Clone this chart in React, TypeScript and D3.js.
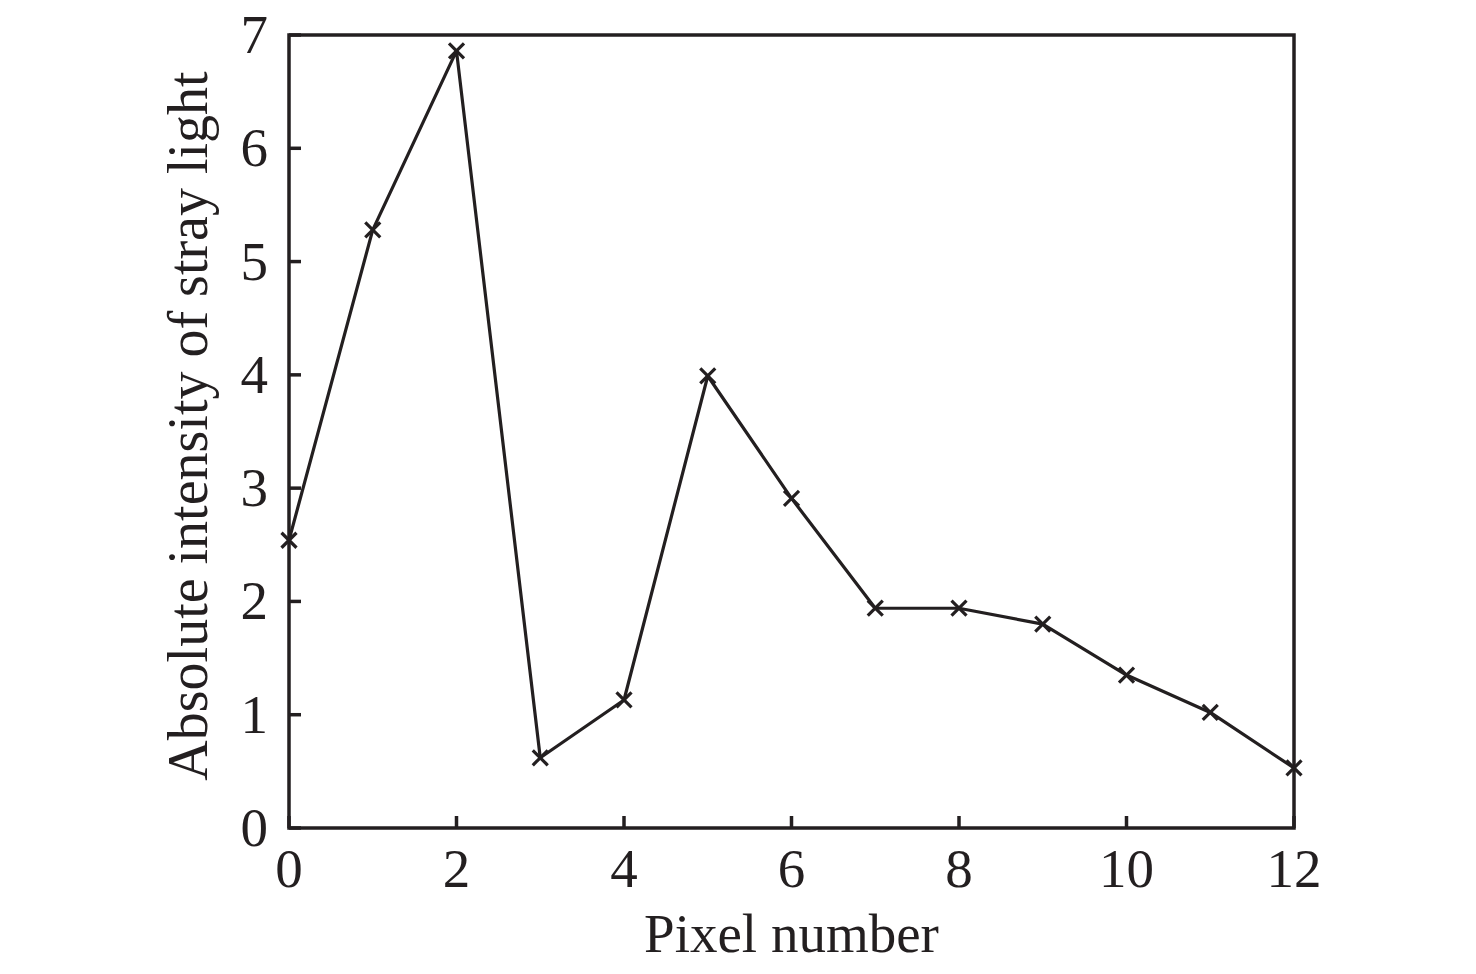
import React from 'react';
import { scaleLinear, line } from 'd3';

const pixels = [0, 1, 2, 3, 4, 5, 6, 7, 8, 9, 10, 11, 12];
const intensity = [2.54, 5.28, 6.86, 0.62, 1.13, 3.99, 2.91, 1.94, 1.94, 1.8, 1.35, 1.02, 0.53];
const xTicks = [0, 2, 4, 6, 8, 10, 12];
const yTicks = [0, 1, 2, 3, 4, 5, 6, 7];

const W = 1476;
const H = 974;
const margin = { left: 289, right: 1294, top: 35, bottom: 828 };
const ink = '#231f20';
const font = '"Liberation Serif", "Times New Roman", serif';

export default function App() {
  const x = scaleLinear().domain([0, 12]).range([margin.left, margin.right]);
  const y = scaleLinear().domain([0, 7]).range([margin.bottom, margin.top]);

  const path = line<number>()
    .x((_, i) => x(pixels[i]))
    .y(d => y(d))(intensity);

  const m = 7.5;

  return (
    <svg
      width={W}
      height={H}
      style={{ position: 'absolute', left: 0, top: 0, background: '#fff' }}
      fontFamily={font}
      fill={ink}
    >
      {/* ticks */}
      {xTicks.map(t => (
        <line key={'xt' + t} x1={x(t)} x2={x(t)} y1={y(0)} y2={y(0) - 12} stroke={ink} strokeWidth={3.5} />
      ))}
      {yTicks.map(t => (
        <line key={'yt' + t} x1={x(0)} x2={x(0) + 12} y1={y(t)} y2={y(t)} stroke={ink} strokeWidth={3.5} />
      ))}
      <rect
        x={margin.left}
        y={margin.top}
        width={margin.right - margin.left}
        height={margin.bottom - margin.top}
        fill="none"
        stroke={ink}
        strokeWidth={3.5}
      />
      <path d={path ?? ''} fill="none" stroke={ink} strokeWidth={3.2} strokeLinejoin="round" />
      {intensity.map((v, i) => {
        const cx = x(pixels[i]);
        const cy = y(v);
        return (
          <g key={'m' + i} stroke={ink} strokeWidth={3.2}>
            <line x1={cx - m} y1={cy - m} x2={cx + m} y2={cy + m} />
            <line x1={cx - m} y1={cy + m} x2={cx + m} y2={cy - m} />
          </g>
        );
      })}
      {/* tick labels */}
      {xTicks.map(t => (
        <text key={'xl' + t} x={x(t)} y={887} textAnchor="middle" fontSize={55}>
          {t}
        </text>
      ))}
      {yTicks.map(t => (
        <text key={'yl' + t} x={268} y={y(t) + 18} textAnchor="end" fontSize={55}>
          {t}
        </text>
      ))}
      <text x={(margin.left + margin.right) / 2} y={952} textAnchor="middle" fontSize={55}>
        Pixel number
      </text>
      <text
        transform={`translate(207, 426) rotate(-90)`}
        textAnchor="middle"
        fontSize={56}
      >
        Absolute intensity of stray light
      </text>
    </svg>
  );
}
